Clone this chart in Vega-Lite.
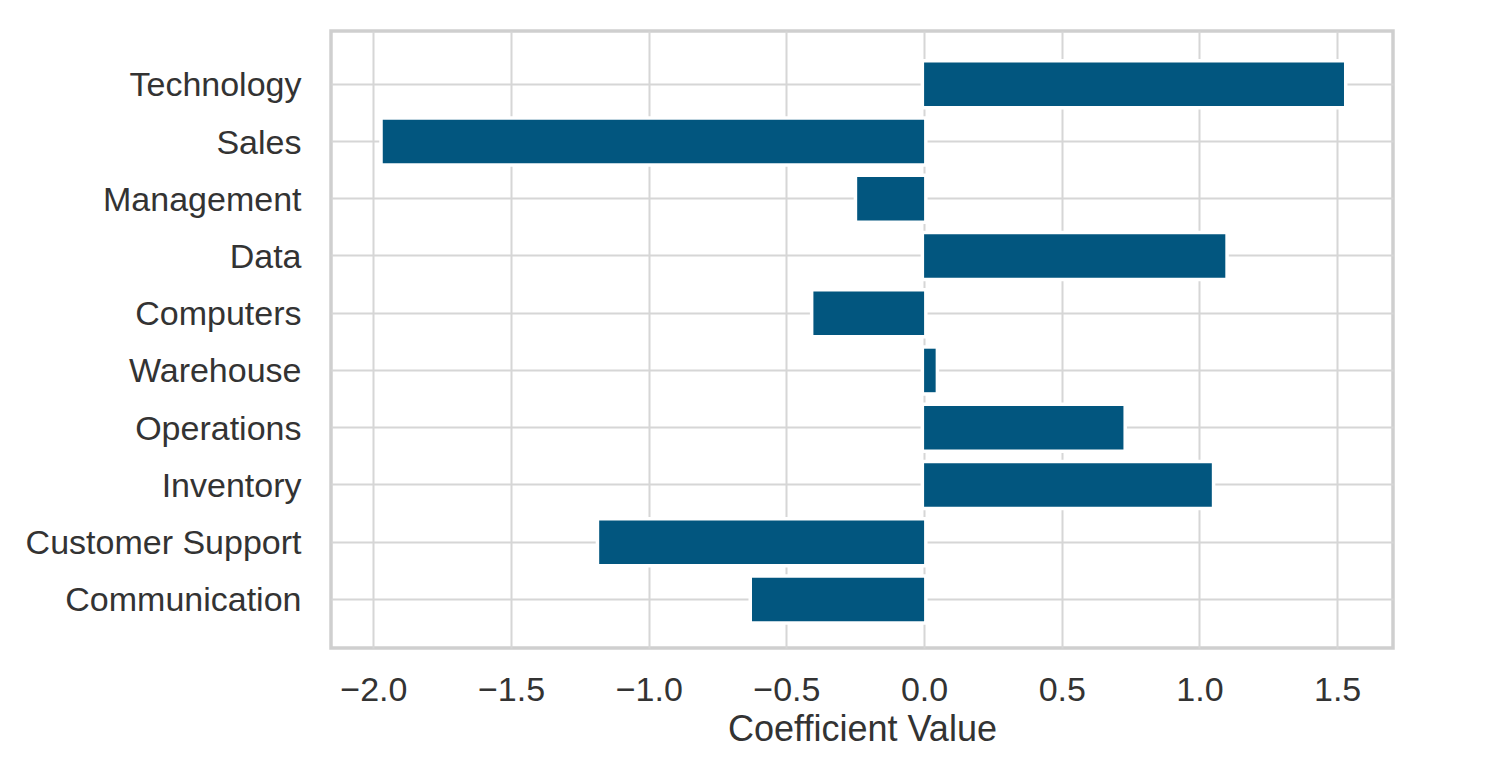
{
  "$schema": "https://vega.github.io/schema/vega-lite/v6.json",
  "width": 1062,
  "height": 617,
  "autosize": {"type": "none"},
  "padding": {"left": 331, "top": 31, "right": 112, "bottom": 124},
  "background": "white",
  "config": {
    "view": {"stroke": "#cfcfcf", "strokeWidth": 3.5},
    "font": "Liberation Sans",
    "axis": {
      "domain": false,
      "ticks": false,
      "grid": true,
      "gridColor": "#d6d6d6",
      "gridWidth": 2,
      "labelFont": "Liberation Sans",
      "labelFontSize": 34,
      "labelLimit": 400,
      "labelColor": "#333333",
      "titleFont": "Liberation Sans",
      "titleFontSize": 36,
      "titleFontWeight": "normal",
      "titleColor": "#333333"
    }
  },
  "data": {
    "values": [
      {"feature": "Technology", "coef": 1.525},
      {"feature": "Sales", "coef": -1.966},
      {"feature": "Management", "coef": -0.243},
      {"feature": "Data", "coef": 1.094},
      {"feature": "Computers", "coef": -0.402},
      {"feature": "Warehouse", "coef": 0.042},
      {"feature": "Operations", "coef": 0.724},
      {"feature": "Inventory", "coef": 1.045},
      {"feature": "Customer Support", "coef": -1.18},
      {"feature": "Communication", "coef": -0.625}
    ]
  },
  "encoding": {
    "y": {
      "field": "feature",
      "type": "nominal",
      "sort": null,
      "scale": {"paddingInner": 0.24, "paddingOuter": 0.51, "align": 0.54},
      "axis": {"title": null, "bandPosition": 0.5, "labelPadding": 30, "labelOffset": 2}
    },
    "x": {
      "field": "coef",
      "type": "quantitative",
      "scale": {"domain": [-2.154, 1.703], "nice": false, "zero": false},
      "axis": {
        "title": "Coefficient Value",
        "values": [-2, -1.5, -1, -0.5, 0, 0.5, 1, 1.5],
        "format": ".1f",
        "labelPadding": 25,
        "titlePadding": 5
      }
    },
    "x2": {"datum": 0}
  },
  "layer": [
    {"mark": {"type": "bar", "color": "white", "stroke": "white", "strokeWidth": 7}},
    {"mark": {"type": "bar", "color": "#02567f"}}
  ]
}
